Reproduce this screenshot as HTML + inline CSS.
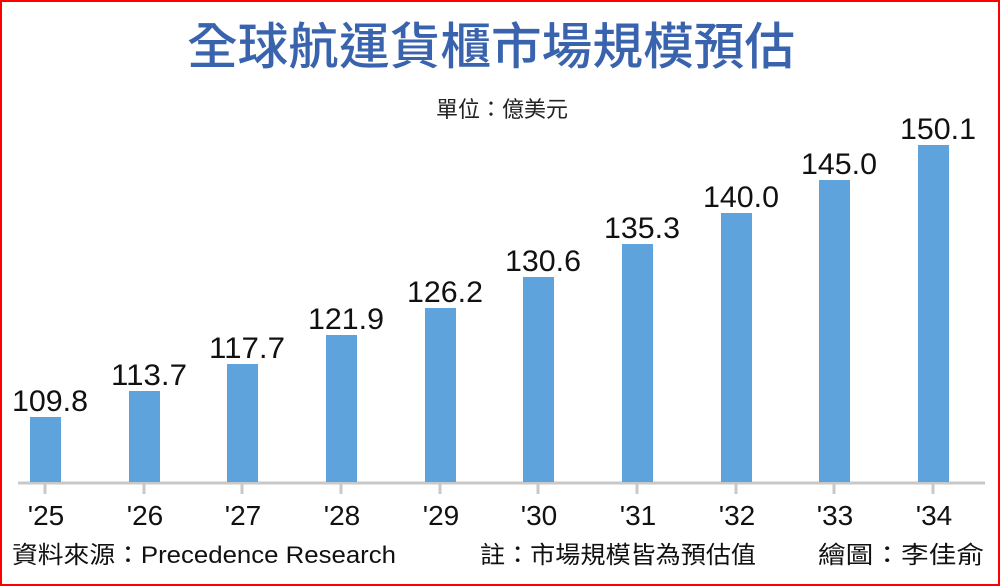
<!DOCTYPE html>
<html><head><meta charset="utf-8"><style>
body{margin:0;width:1000px;height:586px;overflow:hidden;background:#fff}
.f{position:absolute;left:0;top:0;width:996px;height:582px;border:2px solid #f00;}
svg{position:absolute;left:0;top:0}
</style></head><body>
<div class="f"></div>
<svg width="1000" height="586" font-family="Liberation Sans, Noto Sans CJK TC, sans-serif">
<text x="491" y="64" text-anchor="middle" font-size="50" fill="#3a63ae" font-family="Noto Sans CJK TC, sans-serif" font-weight="500" textLength="608" lengthAdjust="spacingAndGlyphs">全球航運貨櫃市場規模預估</text>
<text x="502" y="117" text-anchor="middle" font-size="22" fill="#222" font-family="Noto Sans CJK TC, sans-serif">單位：億美元</text>
<line x1="18" y1="483" x2="985" y2="483" stroke="#c8c8c8" stroke-width="3"/>
<g fill="#5fa3dd">
<rect x="30" y="417" width="31" height="65"/>
<rect x="129" y="391" width="31" height="91"/>
<rect x="227" y="364" width="31" height="118"/>
<rect x="326" y="335" width="31" height="147"/>
<rect x="425" y="308" width="31" height="174"/>
<rect x="523" y="277" width="31" height="205"/>
<rect x="622" y="244" width="31" height="238"/>
<rect x="721" y="213" width="31" height="269"/>
<rect x="819" y="180" width="31" height="302"/>
<rect x="918" y="145" width="31" height="337"/>
</g>
<g stroke="#c8c8c8" stroke-width="3">
<line x1="45" y1="483" x2="45" y2="494"/><line x1="144" y1="483" x2="144" y2="494"/><line x1="242" y1="483" x2="242" y2="494"/><line x1="341" y1="483" x2="341" y2="494"/><line x1="440" y1="483" x2="440" y2="494"/><line x1="538" y1="483" x2="538" y2="494"/><line x1="637" y1="483" x2="637" y2="494"/><line x1="736" y1="483" x2="736" y2="494"/><line x1="834" y1="483" x2="834" y2="494"/><line x1="933" y1="483" x2="933" y2="494"/>
</g>
<g font-size="30" fill="#111" text-anchor="middle">
<text x="50" y="411" textLength="76" lengthAdjust="spacingAndGlyphs">109.8</text>
<text x="149" y="385" textLength="76" lengthAdjust="spacingAndGlyphs">113.7</text>
<text x="247" y="358" textLength="76" lengthAdjust="spacingAndGlyphs">117.7</text>
<text x="346" y="329" textLength="76" lengthAdjust="spacingAndGlyphs">121.9</text>
<text x="445" y="302" textLength="76" lengthAdjust="spacingAndGlyphs">126.2</text>
<text x="543" y="271" textLength="76" lengthAdjust="spacingAndGlyphs">130.6</text>
<text x="642" y="238" textLength="76" lengthAdjust="spacingAndGlyphs">135.3</text>
<text x="741" y="207" textLength="76" lengthAdjust="spacingAndGlyphs">140.0</text>
<text x="839" y="174" textLength="76" lengthAdjust="spacingAndGlyphs">145.0</text>
<text x="938" y="139" textLength="76" lengthAdjust="spacingAndGlyphs">150.1</text>
</g>
<g font-size="28" fill="#111" text-anchor="middle">
<text x="46" y="525">'25</text><text x="145" y="525">'26</text><text x="243" y="525">'27</text><text x="342" y="525">'28</text><text x="441" y="525">'29</text><text x="539" y="525">'30</text><text x="638" y="525">'31</text><text x="737" y="525">'32</text><text x="835" y="525">'33</text><text x="934" y="525">'34</text>
</g>
<g font-size="24" fill="#111">
<text x="12" y="563" textLength="384" lengthAdjust="spacingAndGlyphs">資料來源：Precedence Research</text>
<text x="480" y="563" textLength="276" lengthAdjust="spacingAndGlyphs">註：市場規模皆為預估值</text>
<text x="818" y="563" textLength="166" lengthAdjust="spacingAndGlyphs">繪圖：李佳俞</text>
</g>
</svg>
</body></html>
